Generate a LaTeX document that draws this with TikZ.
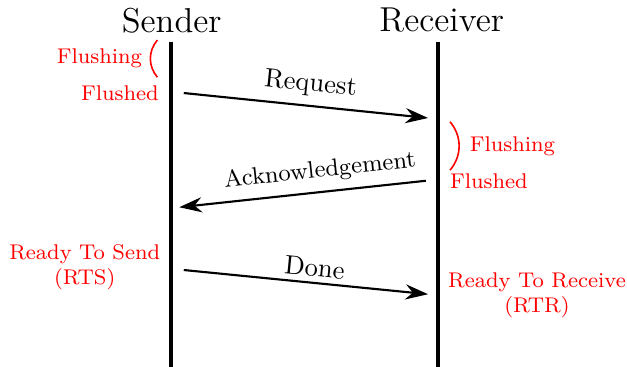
\documentclass[tikz,border=0pt]{standalone}
\usepackage{tikz}
\usetikzlibrary{arrows.meta}
\tikzset{>={Stealth[length=3mm,width=2mm]}}
\tikzset{
  lifeline/.style={line width=1.5pt},
  msg/.style={->,thick},
  state/.style={text=red,font=\footnotesize,inner sep=1pt},
  actor/.style={font=\fontsize{13}{16}\selectfont,inner sep=0pt},
}

\begin{document}
\begin{tikzpicture}[scale=1]
  \useasboundingbox (0,0) rectangle (8.29,-4.85);
  % lifelines
  \node[actor] (sender) at (2.27,-0.27) {Sender};
  \node[actor] (receiver) at (5.84,-0.27) {Receiver};
  \coordinate (stop) at (2.26,-0.55);
  \coordinate (sbot) at (2.26,-4.85);
  \coordinate (rtop) at (5.79,-0.55);
  \coordinate (rbot) at (5.79,-4.85);
  \draw[lifeline] (stop) -- (sbot);
  \draw[lifeline] (rtop) -- (rbot);
  % messages
  \coordinate (req1) at (2.43,-1.23);
  \coordinate (req2) at (5.66,-1.56);
  \coordinate (ack1) at (5.63,-2.39);
  \coordinate (ack2) at (2.37,-2.74);
  \coordinate (done1) at (2.43,-3.57);
  \coordinate (done2) at (5.66,-3.89);
  \draw[msg] (req1) -- node[pos=0.51,above,sloped] (reqlbl) {Request} (req2);
  \draw[msg] (ack1) -- node[pos=0.42,above=0pt,sloped,font=\small] (acklbl) {Acknowledgement} (ack2);
  \draw[msg] (done1) -- node[pos=0.53,above=1pt,sloped,inner sep=1pt] (donelbl) {Done} (done2);
  % sender states
  \node[state,anchor=east] (sflushing) at (1.92,-0.77) {Flushing};
  \node[state,anchor=east] (sflushed) at (2.14,-1.23) {Flushed};
  \coordinate (sb1) at (2.08,-0.53);
  \coordinate (sb2) at (2.08,-1.02);
  \draw[red,semithick] (sb1) to[bend right=40] (sb2);
  \node[state,align=center] (rts) at (1.12,-3.53) {Ready To Send\\(RTS)};
  % receiver states
  \node[state,anchor=west] (rflushing) at (6.17,-1.94) {Flushing};
  \node[state,anchor=west] (rflushed) at (5.91,-2.39) {Flushed};
  \coordinate (rb1) at (5.95,-1.61);
  \coordinate (rb2) at (5.95,-2.25);
  \draw[red,semithick] (rb1) to[bend left=40] (rb2);
  \node[state,align=center] (rtr) at (7.10,-3.90) {Ready To Receive\\(RTR)};
\end{tikzpicture}
\end{document}
